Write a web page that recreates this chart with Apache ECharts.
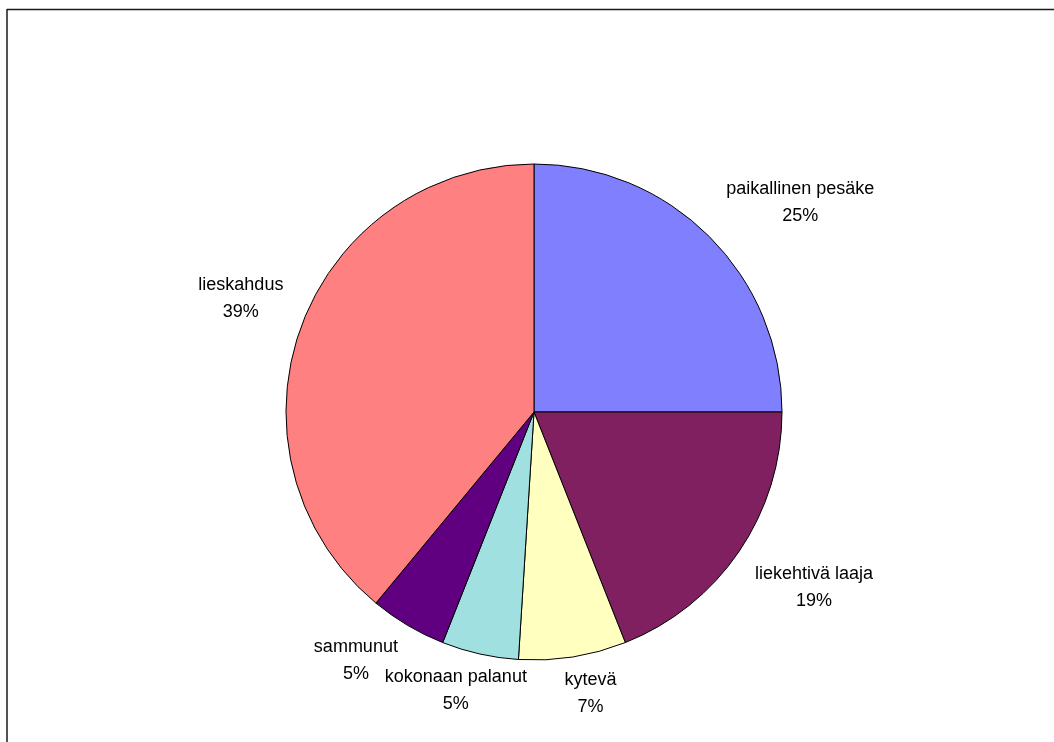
<!DOCTYPE html>
<html>
<head>
<meta charset="utf-8">
<title>Palon laajuus</title>
<script src="https://cdn.jsdelivr.net/npm/echarts@6/dist/echarts.min.js"></script>
<style>
  html, body { margin: 0; padding: 0; background: #ffffff; }
  #chart { width: 1054px; height: 742px; }
</style>
</head>
<body>
<div id="chart"></div>
<script>
// Slice names and their shares (percent), clockwise from 12 o'clock
const categories = ['paikallinen pesäke', 'liekehtivä laaja', 'kytevä', 'kokonaan palanut', 'sammunut', 'lieskahdus'];
const shares = [25, 19, 7, 5, 5, 39];
const sliceColors = ['#8080FF', '#802060', '#FFFFC0', '#A0E0E0', '#600080', '#FF8080'];

// Label placement: [labelLine length, labelLine length2] for each slice
const labelPlacement = [[48, -18], [64, -53], [37, -63], [37, -59], [41, -44], [88, -98]];

const chart = echarts.init(document.getElementById('chart'), null, { renderer: 'canvas' });

const data = categories.map((name, i) => ({
  name: name,
  value: shares[i],
  itemStyle: { color: sliceColors[i] },
  labelLine: { show: false, length: labelPlacement[i][0], length2: labelPlacement[i][1] }
}));

chart.setOption({
  animation: false,
  backgroundColor: '#ffffff',
  graphic: [
    { type: 'line', shape: { x1: 7, y1: 9.5, x2: 1054, y2: 9.5 }, style: { stroke: '#1a1a1a', lineWidth: 1.5 } },
    { type: 'line', shape: { x1: 7, y1: 9, x2: 7, y2: 742 }, style: { stroke: '#1a1a1a', lineWidth: 1.5 } }
  ],
  series: [{
    type: 'pie',
    center: [534, 412],
    radius: 248,
    startAngle: 90,
    clockwise: true,
    avoidLabelOverlap: false,
    labelLayout: { hideOverlap: false },
    itemStyle: { borderColor: '#000000', borderWidth: 1 },
    emphasis: { disabled: true },
    label: {
      show: true,
      position: 'outside',
      distanceToLabelLine: 0,
      formatter: p => '{a|' + p.name + '}\n{a|' + Math.round(p.percent) + '%}',
      rich: {
        a: {
          width: 150,
          align: 'center',
          lineHeight: 27,
          fontFamily: 'Liberation Sans, Arial, sans-serif',
          fontSize: 18,
          color: '#000000'
        }
      }
    },
    labelLine: { show: false },
    data: data
  }]
});
</script>
</body>
</html>
